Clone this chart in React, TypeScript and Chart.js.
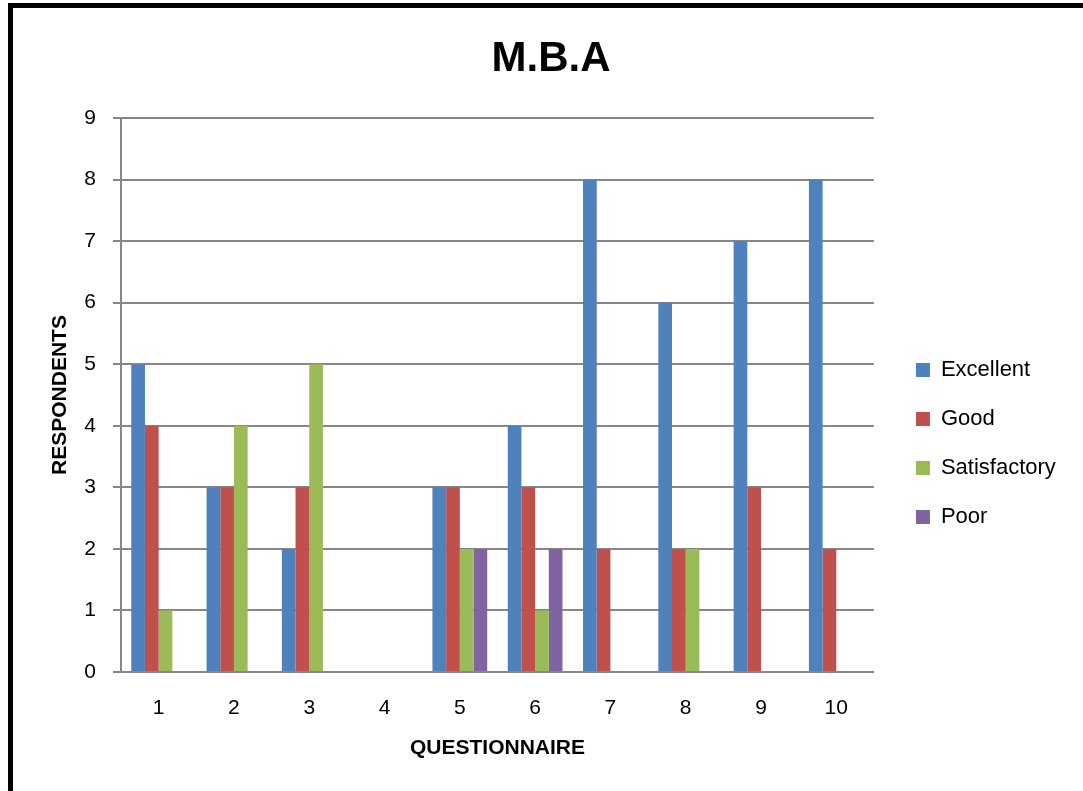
import React, { useEffect, useRef } from 'react';
import { Chart, registerables } from 'chart.js';

Chart.register(...registerables);

const categories = ['1', '2', '3', '4', '5', '6', '7', '8', '9', '10'];
const excellent = [5, 3, 2, 0, 3, 4, 8, 6, 7, 8];
const good = [4, 3, 3, 0, 3, 3, 2, 2, 3, 2];
const satisfactory = [1, 4, 5, 0, 2, 1, 0, 2, 0, 0];
const poor = [0, 0, 0, 0, 2, 2, 0, 0, 0, 0];
const seriesNames = ['Excellent', 'Good', 'Satisfactory', 'Poor'];
const seriesColors = ['#4F81BD', '#C0504D', '#9BBB59', '#8064A2'];
const yMin = 0;
const yMax = 9;
const yStep = 1;

const FONT = "'Liberation Sans', Arial, sans-serif";
const GRID = '#878787';
const CANVAS_W = 1102;
const CANVAS_H = 791;
const LEGEND_FONT = 22;
const LEGEND_PAD = 27;
const LEGEND_BOX = 14;
const LEGEND_LEFT = 888;
const PAD_LEFT = 44;

export default function App() {
  const ref = useRef<HTMLCanvasElement | null>(null);

  useEffect(() => {
    const canvas = ref.current;
    if (!canvas) return;
    const ctx = canvas.getContext('2d');
    let maxText = 115;
    if (ctx) {
      ctx.font = `${LEGEND_FONT}px ${FONT}`;
      maxText = Math.max(...seriesNames.map((n) => ctx.measureText(n).width));
    }
    const legendWidth = LEGEND_PAD + LEGEND_BOX + LEGEND_FONT / 2 + maxText + 3;
    const padRight = Math.max(0, CANVAS_W - LEGEND_LEFT - legendWidth);

    const values = [excellent, good, satisfactory, poor];
    const chart = new Chart(canvas, {
      type: 'bar',
      data: {
        labels: categories,
        datasets: seriesNames.map((name, i) => ({
          label: name,
          data: values[i],
          backgroundColor: seriesColors[i],
          borderWidth: 0,
          categoryPercentage: 4 / 5.5,
          barPercentage: 1,
        })),
      },
      options: {
        responsive: false,
        animation: false,
        devicePixelRatio: 1,
        layout: { padding: { left: PAD_LEFT, right: padRight, top: 0, bottom: 0 } },
        plugins: {
          tooltip: { enabled: false },
          title: {
            display: true,
            text: 'M.B.A',
            color: '#000',
            font: { family: FONT, size: 42, weight: 'bold' },
            padding: { top: 34, bottom: 33.6 },
          },
          legend: {
            display: true,
            position: 'right',
            align: 'start',
            title: {
              display: true,
              text: ' ',
              color: 'rgba(0,0,0,0)',
              font: { family: FONT, size: 10 },
              padding: { top: 0, bottom: 320 },
            },
            labels: {
              boxWidth: LEGEND_BOX,
              boxHeight: LEGEND_BOX,
              padding: LEGEND_PAD,
              color: '#000',
              font: { family: FONT, size: LEGEND_FONT },
            },
          },
        },
        scales: {
          x: {
            type: 'category',
            grid: { display: false, drawTicks: false },
            border: { display: false },
            ticks: { color: '#000', font: { family: FONT, size: 21 }, padding: 24, maxRotation: 0 },
            title: {
              display: true,
              text: 'QUESTIONNAIRE',
              color: '#000',
              font: { family: FONT, size: 21, weight: 'bold' },
              padding: { top: 0, bottom: 30 },
            },
            afterFit: (s: any) => { s.height = 119; },
          },
          y: {
            type: 'linear',
            position: 'left',
            min: yMin,
            max: yMax,
            ticks: { stepSize: yStep, color: '#000', font: { family: FONT, size: 21 }, padding: 17 },
            grid: { color: GRID, lineWidth: 2, tickLength: 8, drawTicks: true },
            border: { display: true, color: GRID, width: 2 },
            title: {
              display: true,
              text: 'RESPONDENTS',
              color: '#000',
              font: { family: FONT, size: 21, weight: 'bold' },
              padding: { top: 48 - PAD_LEFT, bottom: 0 },
            },
            afterFit: (s: any) => { s.width = 121 - PAD_LEFT; },
          },
          yR: {
            type: 'linear',
            position: 'right',
            display: true,
            grid: { display: false },
            border: { display: false },
            ticks: { display: false },
            afterFit: (s: any) => { s.width = 15; },
          },
        },
      },
    } as any);
    return () => chart.destroy();
  }, []);

  return (
    <div style={{ position: 'absolute', left: 0, top: 0, width: 1083, height: 791, overflow: 'hidden', background: '#fff' }}>
      <div
        style={{
          position: 'absolute',
          left: 8,
          top: 3,
          width: 1200,
          height: 900,
          border: '5px solid #000',
          boxSizing: 'border-box',
        }}
      />
      <canvas
        ref={ref}
        width={CANVAS_W}
        height={CANVAS_H}
        style={{ position: 'absolute', left: 0, top: 0, width: CANVAS_W, height: CANVAS_H }}
      />
    </div>
  );
}
